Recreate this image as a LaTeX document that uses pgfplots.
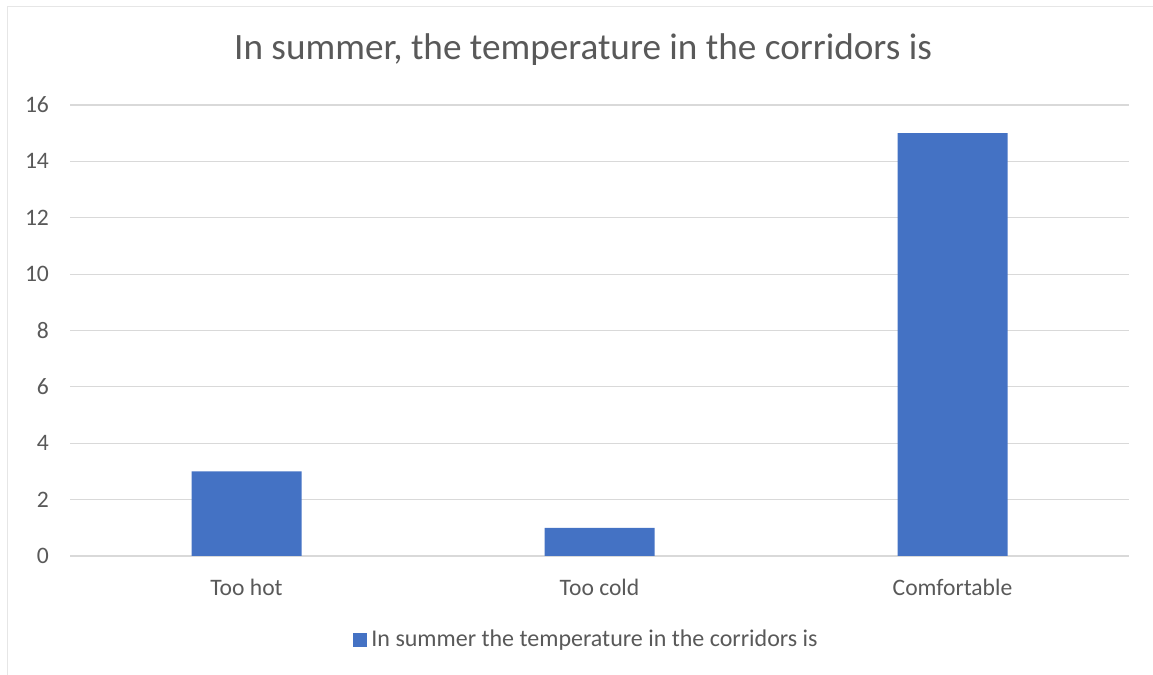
\documentclass[border=0pt]{standalone}
\usepackage{pgfplots}
\pgfplotsset{compat=1.18}
\usepackage{fontspec}
\setmainfont{Carlito}
\definecolor{barblue}{HTML}{4472C4}
\definecolor{gridgray}{HTML}{D9D9D9}
\definecolor{txtgray}{HTML}{595959}
\definecolor{bordgray}{HTML}{E6E6E6}
\begin{document}
\begin{tikzpicture}
\path[use as bounding box] (0pt,0pt) rectangle (576.5pt,337.5pt);
\draw[bordgray, line width=0.5pt] (3.5pt,0pt) -- (3.5pt,334pt) -- (576.5pt,334pt);
\node[font=\fontsize{18.6}{22}\selectfont, text=txtgray] at (291.5pt,312.5pt) {In summer, the temperature in the corridors is};
\begin{axis}[
  at={(35pt,59.5pt)}, anchor=south west,
  scale only axis, width=529.5pt, height=225.5pt,
  xmin=-0.5, xmax=2.5, ymin=0, ymax=16,
  ytick={0,2,...,16},
  xtick={0,1,2},
  xticklabels={Too hot, Too cold, Comfortable},
  ybar, bar width=55pt,
  axis x line*=bottom, axis y line*=left,
  x axis line style={gridgray, line width=0.6pt, -},
  y axis line style={draw=none},
  major tick length=0pt,
  ymajorgrids, grid style={gridgray, line width=0.6pt},
  tick label style={font=\fontsize{11.8}{14}\selectfont, text=txtgray},
  /pgf/number format/assume math mode=true,
  yticklabel style={xshift=-7pt},
  xticklabel style={yshift=-8pt},
  legend style={at={(0.4887,-0.186)}, anchor=center, draw=none,
    font=\fontsize{12}{14}\selectfont, text=txtgray},
]
\addplot[fill=barblue, draw=none,
  legend image code/.code={\fill[barblue] (0pt,-3.5pt) rectangle (7pt,3.5pt);}]
  coordinates {(0,3) (1,1) (2,15)};
\addlegendentry{In summer the temperature in the corridors is}
\end{axis}
\end{tikzpicture}
\end{document}
